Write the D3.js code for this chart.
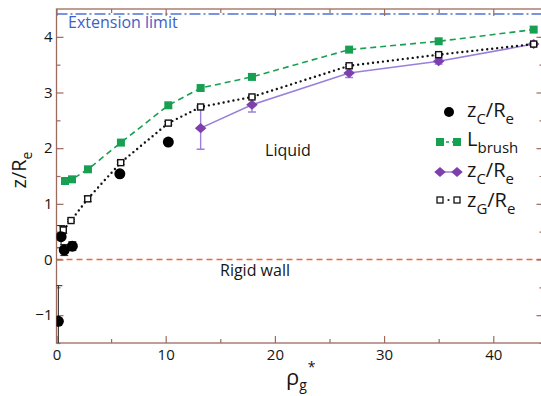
<!DOCTYPE html>
<html>
<head>
<meta charset="utf-8">
<script src="https://cdn.jsdelivr.net/npm/d3@7"></script>
<style>
  html, body { margin: 0; padding: 0; background: #fff; }
  svg { display: block; font-family: "Open Sans", sans-serif; }
</style>
</head>
<body>
<svg id="chart" width="541" height="396"></svg>
<script>
// Grafting density rho_g* versus heights normalised by R_e
const circleRho   = [0.17, 0.42, 0.71, 1.45, 5.8, 10.24];
const circleZ     = [-1.11, 0.41, 0.17, 0.24, 1.54, 2.11];
const circleErr   = [0.64, 0.2, 0.1, 0.08, 0, 0];

const brushRho    = [0.78, 1.42, 2.88, 5.9, 10.24, 13.2, 17.9, 26.8, 35.0, 43.7];
const brushL      = [1.41, 1.44, 1.62, 2.10, 2.77, 3.08, 3.28, 3.77, 3.92, 4.13];

const diamondRho  = [13.2, 17.9, 26.8, 35.0, 43.7];
const diamondZ    = [2.36, 2.78, 3.35, 3.56, 3.87];
const diamondErr  = [0.38, 0.13, 0.08, 0.05, 0.03];

const gRho        = [0.62, 1.33, 2.86, 5.88, 10.24, 13.2, 17.9, 26.8, 35.0, 43.7];
const gZ          = [0.53, 0.70, 1.09, 1.74, 2.45, 2.74, 2.92, 3.48, 3.68, 3.87];
const gErr        = [0.06, 0.02, 0.05, 0.03, 0.03, 0.02, 0.02, 0.02, 0.02, 0.02];

const xMajor = [0, 10, 20, 30, 40];
const xMinor = [5, 15, 25, 35];
const yMajor = [-1, 0, 1, 2, 3, 4];
const yMinor = [-1.5, -0.5, 0.5, 1.5, 2.5, 3.5];

const extensionLimit = 4.41;
const rigidWall = 0;

const svg = d3.select("#chart");
const pLeft = 56.5, pRight = 543.5, pTop = 9, pBottom = 343;
const x = d3.scaleLinear().domain([0, 44.6]).range([pLeft, pRight]);
const y = d3.scaleLinear().domain([-1.5, 4.5]).range([pBottom, pTop]);

const axisColor = "#9c6b5e";
const green = "#17a052", purpleFill = "#7d3fae", purpleLine = "#9a80dc";
const ink = "#151515";

// reference lines
svg.append("line")
  .attr("x1", pLeft).attr("x2", pRight)
  .attr("y1", y(extensionLimit)).attr("y2", y(extensionLimit))
  .attr("stroke", "#4f72d6").attr("stroke-width", 1.6)
  .attr("stroke-dasharray", "11,3,2,3");
svg.append("line")
  .attr("x1", pLeft).attr("x2", pRight)
  .attr("y1", y(rigidWall)).attr("y2", y(rigidWall))
  .attr("stroke", "#f0653e").attr("stroke-width", 1.6)
  .attr("stroke-dasharray", "6,4");

// axes: inward ticks on all four sides
function styleAxis(g) {
  g.select(".domain").remove();
  g.selectAll(".tick line").attr("stroke", axisColor).attr("stroke-width", 1.2);
  g.selectAll(".tick text").attr("fill", ink).attr("font-size", 15)
    .attr("font-family", "Open Sans, sans-serif");
}
svg.append("g").attr("transform", `translate(0,${pBottom})`)
  .call(d3.axisBottom(x).tickValues(xMajor).tickSizeInner(-7).tickSizeOuter(0).tickPadding(6).tickFormat(d3.format("d")))
  .call(styleAxis);
svg.append("g").attr("transform", `translate(0,${pBottom})`)
  .call(d3.axisBottom(x).tickValues(xMinor).tickSizeInner(-4).tickSizeOuter(0).tickFormat(""))
  .call(styleAxis);
svg.append("g").attr("transform", `translate(0,${pTop})`)
  .call(d3.axisTop(x).tickValues(xMajor).tickSizeInner(-7).tickSizeOuter(0).tickFormat(""))
  .call(styleAxis);
svg.append("g").attr("transform", `translate(0,${pTop})`)
  .call(d3.axisTop(x).tickValues(xMinor).tickSizeInner(-4).tickSizeOuter(0).tickFormat(""))
  .call(styleAxis);
svg.append("g").attr("transform", `translate(${pLeft},0)`)
  .call(d3.axisLeft(y).tickValues(yMajor).tickSizeInner(-7).tickSizeOuter(0).tickPadding(4).tickFormat(d3.format("d")))
  .call(styleAxis);
svg.append("g").attr("transform", `translate(${pLeft},0)`)
  .call(d3.axisLeft(y).tickValues(yMinor).tickSizeInner(-4).tickSizeOuter(0).tickFormat(""))
  .call(styleAxis);
svg.append("g").attr("transform", `translate(${pRight},0)`)
  .call(d3.axisRight(y).tickValues(yMajor).tickSizeInner(-7).tickSizeOuter(0).tickFormat(""))
  .call(styleAxis);
svg.append("g").attr("transform", `translate(${pRight},0)`)
  .call(d3.axisRight(y).tickValues(yMinor).tickSizeInner(-4).tickSizeOuter(0).tickFormat(""))
  .call(styleAxis);

svg.append("rect")
  .attr("x", pLeft).attr("y", pTop).attr("width", pRight - pLeft).attr("height", pBottom - pTop)
  .attr("fill", "none").attr("stroke", axisColor).attr("stroke-width", 1.3);

// clip for data
svg.append("clipPath").attr("id", "plot-clip").append("rect")
  .attr("x", pLeft).attr("y", pTop).attr("width", pRight - pLeft).attr("height", pBottom - pTop);
const plot = svg.append("g").attr("clip-path", "url(#plot-clip)");

function errorBars(g, xs, ys, es, color, width) {
  xs.forEach((xv, i) => {
    const e = es[i];
    if (!e) return;
    const px = x(xv), y1 = y(ys[i] + e), y2 = y(ys[i] - e);
    g.append("line").attr("x1", px).attr("x2", px).attr("y1", y1).attr("y2", y2)
      .attr("stroke", color).attr("stroke-width", width);
    [y1, y2].forEach(yy => g.append("line")
      .attr("x1", px - 4).attr("x2", px + 4).attr("y1", yy).attr("y2", yy)
      .attr("stroke", color).attr("stroke-width", width));
  });
}

const line = d3.line().x(d => x(d[0])).y(d => y(d[1]));

// L_brush (green dashed)
plot.append("path").datum(d3.zip(brushRho, brushL)).attr("d", line)
  .attr("fill", "none").attr("stroke", green).attr("stroke-width", 1.6)
  .attr("stroke-dasharray", "6,4");

// z_C/R_e purple series
errorBars(plot, diamondRho, diamondZ, diamondErr, purpleLine, 1.4);
plot.append("path").datum(d3.zip(diamondRho, diamondZ)).attr("d", line)
  .attr("fill", "none").attr("stroke", purpleLine).attr("stroke-width", 1.6);

// z_G/R_e dotted
errorBars(plot, gRho, gZ, gErr, "#222", 1);
plot.append("path").datum(d3.zip(gRho, gZ)).attr("d", line)
  .attr("fill", "none").attr("stroke", "#111").attr("stroke-width", 2.4)
  .attr("stroke-linecap", "round").attr("stroke-dasharray", "0,5");

// black circle series error bars
errorBars(plot, circleRho, circleZ, circleErr, "#222", 1);

// markers
plot.selectAll(".brush").data(d3.zip(brushRho, brushL)).join("rect")
  .attr("x", d => x(d[0]) - 4).attr("y", d => y(d[1]) - 4)
  .attr("width", 8).attr("height", 8).attr("fill", green);

const diamond = d3.symbol().type(d3.symbolDiamond2).size(64);
plot.selectAll(".diamond").data(d3.zip(diamondRho, diamondZ)).join("path")
  .attr("d", diamond)
  .attr("transform", d => `translate(${x(d[0])},${y(d[1])}) scale(1.15,1)`)
  .attr("fill", purpleFill);

plot.selectAll(".gsq").data(d3.zip(gRho, gZ)).join("rect")
  .attr("x", d => x(d[0]) - 3).attr("y", d => y(d[1]) - 3)
  .attr("width", 6).attr("height", 6)
  .attr("fill", "#fff").attr("stroke", "#111").attr("stroke-width", 1.4);

plot.selectAll(".circ").data(d3.zip(circleRho, circleZ)).join("circle")
  .attr("cx", d => x(d[0])).attr("cy", d => y(d[1])).attr("r", 5.5)
  .attr("fill", "#000");

// annotations
svg.append("text").attr("x", 68).attr("y", 28)
  .attr("fill", "#3f60c6").attr("font-size", 16).text("Extension limit");
svg.append("text").attr("x", 288).attr("y", 156).attr("text-anchor", "middle")
  .attr("fill", ink).attr("font-size", 16).text("Liquid");
svg.append("text").attr("x", 255).attr("y", 276).attr("text-anchor", "middle")
  .attr("fill", ink).attr("font-size", 16).text("Rigid wall");

// axis titles
const yTitle = svg.append("text")
  .attr("transform", "translate(26,170) rotate(-90)")
  .attr("text-anchor", "middle").attr("font-size", 20).attr("fill", ink);
yTitle.append("tspan").text("z/R");
yTitle.append("tspan").attr("font-size", 14).attr("dy", 6).text("e");

const xTitle = svg.append("text").attr("x", 286).attr("y", 385)
  .attr("font-size", 22).attr("fill", ink);
xTitle.append("tspan").text("ρ");
xTitle.append("tspan").attr("font-size", 14).attr("dy", 5).text("g");
xTitle.append("tspan").attr("font-size", 14).attr("dy", -18).attr("dx", 1).text("*");

// legend
const legendX = 467;
function legendLabel(yb, parts) {
  const t = svg.append("text").attr("x", legendX).attr("y", yb)
    .attr("font-size", 20).attr("fill", ink);
  let shift = 0;
  parts.forEach(([s, sub]) => {
    const dy = sub ? 7 - shift : -shift;
    shift = sub ? 7 : 0;
    t.append("tspan").attr("dy", dy).attr("font-size", sub ? 15 : 20).text(s);
  });
}
// row 1: filled circle
svg.append("circle").attr("cx", 449).attr("cy", 112).attr("r", 5).attr("fill", "#000");
legendLabel(117, [["z", false], ["C", true], ["/R", false], ["e", true]]);
// row 2: green squares
svg.append("line").attr("x1", 440).attr("x2", 457).attr("y1", 142).attr("y2", 142)
  .attr("stroke", green).attr("stroke-width", 1.5).attr("stroke-dasharray", "3,3");
[440, 457].forEach(cx => svg.append("rect").attr("x", cx - 4).attr("y", 138)
  .attr("width", 8).attr("height", 8).attr("fill", green));
legendLabel(146, [["L", false], ["brush", true]]);
// row 3: purple diamonds
svg.append("line").attr("x1", 440).attr("x2", 457).attr("y1", 172).attr("y2", 172)
  .attr("stroke", purpleLine).attr("stroke-width", 1.5);
[440, 457].forEach(cx => svg.append("path").attr("d", diamond)
  .attr("transform", `translate(${cx},172) scale(1.15,1)`).attr("fill", purpleFill));
legendLabel(177, [["z", false], ["C", true], ["/R", false], ["e", true]]);
// row 4: open squares
svg.append("circle").attr("cx", 448.5).attr("cy", 200).attr("r", 1.1).attr("fill", "#111");
[440, 457].forEach(cx => svg.append("rect").attr("x", cx - 3).attr("y", 197)
  .attr("width", 6).attr("height", 6).attr("fill", "#fff")
  .attr("stroke", "#111").attr("stroke-width", 1.3));
legendLabel(207, [["z", false], ["G", true], ["/R", false], ["e", true]]);
</script>
</body>
</html>
